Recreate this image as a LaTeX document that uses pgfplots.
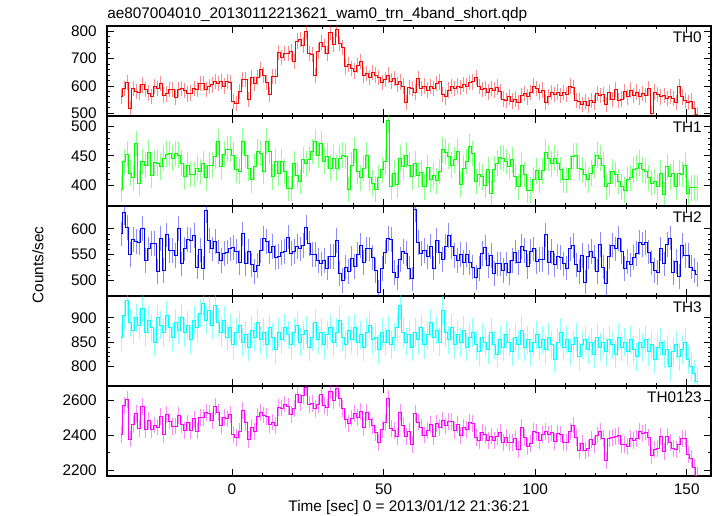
\documentclass[border=0pt]{standalone}
\usepackage{fontspec}
\setmainfont{Liberation Sans}
\usepackage{pgfplots}
\usepackage{pgfplotstable}
\pgfplotsset{compat=1.18}
\definecolor{qred}{RGB}{255,0,0}
\definecolor{qgreen}{RGB}{0,255,0}
\definecolor{qblue}{RGB}{0,0,255}
\definecolor{qcyan}{RGB}{0,255,255}
\definecolor{qmag}{RGB}{255,0,255}
\pgfplotstableread{
t a b c d e
-36.5 561 393 590 860 2404
-35.5 592 440 632 905 2569
-34.5 613 453 603 935 2604
-33.5 517 420 550 890 2377
-32.5 592 412 579 875 2458
-31.5 579 471 575 900 2525
-30.5 575 403 573 885 2436
-29.5 604 440 601 920 2565
-28.5 588 434 539 870 2431
-27.5 574 455 561 895 2485
-26.5 561 417 571 880 2429
-25.5 598 438 571 850 2457
-24.5 592 437 517 900 2446
-23.5 610 431 581 885 2507
-22.5 567 446 519 870 2402
-21.5 571 453 588 905 2517
-20.5 588 454 558 880 2480
-19.5 586 446 558 860 2450
-18.5 559 454 548 890 2451
-17.5 586 451 601 875 2513
-16.5 592 437 532 900 2461
-15.5 583 414 561 870 2428
-14.5 571 434 579 885 2469
-13.5 574 418 577 855 2424
-12.5 592 418 587 895 2492
-11.5 588 429 526 880 2423
-10.5 608 423 559 910 2500
-9.5 608 436 524 930 2498
-8.5 586 412 635 895 2528
-7.5 598 434 577 915 2524
-6.5 604 434 561 885 2484
-5.5 616 449 575 925 2565
-4.5 610 474 555 890 2529
-3.5 616 431 539 870 2456
-2.5 600 453 552 895 2500
-1.5 616 461 555 860 2492
-0.5 614 461 561 880 2516
0.5 542 451 563 845 2401
1.5 536 426 556 870 2388
2.5 580 423 535 885 2423
3.5 623 475 590 850 2538
4.5 625 451 532 865 2473
5.5 550 429 556 840 2375
6.5 630 409 530 875 2444
7.5 610 431 517 860 2418
8.5 630 457 529 890 2506
9.5 660 454 558 855 2527
10.5 640 423 581 870 2514
11.5 612 475 575 845 2507
12.5 570 457 555 880 2462
13.5 635 414 565 860 2474
14.5 635 440 545 835 2455
15.5 722 420 547 870 2559
16.5 705 440 554 855 2554
17.5 718 423 556 880 2577
18.5 720 394 584 865 2563
19.5 725 394 552 845 2516
20.5 690 436 556 870 2552
21.5 765 417 566 885 2633
22.5 770 406 561 850 2587
23.5 750 443 568 865 2626
24.5 800 436 603 875 2672
25.5 720 444 571 840 2575
26.5 715 457 550 860 2582
27.5 638 474 550 890 2552
28.5 728 451 539 855 2573
29.5 760 471 532 870 2633
30.5 745 441 539 845 2570
31.5 718 449 524 865 2556
32.5 795 429 547 880 2651
33.5 752 446 547 850 2595
34.5 808 429 577 870 2664
35.5 755 446 513 895 2609
36.5 740 451 500 860 2551
37.5 670 449 526 845 2490
38.5 680 392 517 875 2464
39.5 665 434 543 855 2497
40.5 655 460 527 880 2522
41.5 675 423 550 850 2498
42.5 690 412 568 865 2535
43.5 640 429 535 840 2444
44.5 645 451 561 870 2527
45.5 630 412 561 885 2488
46.5 650 403 545 855 2453
47.5 640 393 519 860 2412
48.5 632 412 477 835 2356
49.5 612 426 523 870 2431
50.5 625 440 555 850 2470
51.5 640 511 581 875 2607
52.5 618 397 579 845 2439
53.5 628 420 516 860 2424
54.5 605 400 506 880 2391
55.5 615 446 541 925 2527
56.5 600 431 556 870 2457
57.5 540 451 552 850 2393
58.5 595 434 524 865 2418
59.5 590 414 503 840 2347
60.5 578 436 637 870 2521
61.5 628 417 574 855 2474
62.5 592 421 552 880 2445
63.5 600 397 558 845 2400
64.5 585 430 547 865 2427
65.5 598 409 565 890 2462
66.5 592 417 524 860 2393
67.5 608 407 577 875 2467
68.5 615 423 555 850 2443
69.5 568 460 541 915 2484
70.5 560 456 566 870 2452
71.5 585 449 587 855 2476
72.5 598 434 566 880 2478
73.5 592 443 548 845 2428
74.5 600 458 539 865 2462
75.5 595 401 550 850 2396
76.5 605 429 535 875 2444
77.5 600 440 550 840 2430
78.5 612 466 535 860 2473
79.5 615 454 526 870 2465
80.5 632 406 505 845 2388
81.5 598 418 523 830 2369
82.5 588 414 552 860 2414
83.5 592 399 563 850 2404
84.5 578 426 529 835 2368
85.5 590 386 548 870 2394
86.5 585 427 513 845 2370
87.5 596 437 532 825 2390
88.5 580 447 532 855 2414
89.5 552 446 519 840 2357
90.5 548 440 532 865 2385
91.5 560 431 516 850 2357
92.5 545 443 539 830 2357
93.5 552 414 555 860 2381
94.5 540 397 535 845 2317
95.5 566 434 566 875 2441
96.5 572 418 558 840 2388
97.5 560 391 527 855 2333
98.5 575 391 556 830 2352
99.5 600 409 561 850 2420
100.5 590 424 537 865 2416
101.5 578 409 541 840 2368
102.5 585 424 541 855 2405
103.5 540 456 588 835 2419
104.5 560 446 535 860 2401
105.5 575 436 556 845 2412
106.5 570 446 530 815 2361
107.5 578 436 547 850 2411
108.5 565 426 545 870 2406
109.5 575 409 532 840 2356
110.5 568 409 524 855 2356
111.5 600 429 561 830 2420
112.5 595 449 568 845 2457
113.5 548 450 530 860 2388
114.5 545 429 517 820 2311
115.5 532 426 548 845 2351
116.5 542 418 497 855 2312
117.5 530 409 547 835 2321
118.5 548 420 556 850 2374
119.5 540 434 545 825 2344
120.5 572 451 517 860 2400
121.5 565 446 569 840 2420
122.5 570 434 526 850 2380
123.5 532 397 494 830 2253
124.5 575 403 547 855 2380
125.5 550 423 568 845 2386
126.5 588 418 561 825 2392
127.5 548 406 581 860 2395
128.5 552 397 556 840 2345
129.5 580 391 523 850 2344
130.5 560 409 537 830 2336
131.5 585 412 530 855 2382
132.5 565 426 545 835 2371
133.5 578 429 552 820 2379
134.5 560 437 573 850 2420
135.5 572 426 569 840 2407
136.5 566 423 573 855 2417
137.5 590 412 555 830 2387
138.5 500 403 535 845 2283
139.5 578 406 519 815 2318
140.5 570 397 516 840 2323
141.5 560 420 561 850 2391
142.5 565 383 532 825 2305
143.5 555 431 569 835 2390
144.5 562 414 582 800 2358
145.5 555 420 516 830 2321
146.5 540 397 537 845 2319
147.5 598 420 508 820 2346
148.5 560 418 568 835 2381
149.5 548 434 548 850 2380
150.5 540 386 548 815 2289
151.5 545 395 526 800 2266
152.5 518 395 519 785 2217
153.5 495 395 511 770 2171
}\data

\pgfplotsset{
  panel/.style={
    scale only axis, width=453pt, height=67.5pt, anchor=south west,
    xmin=-41.2, xmax=158, xtick={0,50,100,150}, minor x tick num=4,
    tick align=inside, tick pos=both,
    major tick length=5pt, minor tick length=2.5pt,
    axis line style={line width=0.8pt, black},
    every tick/.style={black, line width=0.6pt},
    yticklabel style={inner sep=0pt, anchor=east, xshift=-7.5pt},
    xticklabel style={inner sep=0pt, anchor=north, yshift=-5.5pt},
    /pgf/number format/assume math mode=true,
    /pgf/number format/1000 sep={},
    scaled y ticks=false,
    minor y tick num=4,
    tick label style={font=\fontsize{11.5}{13.8}\selectfont},
  },
}

\begin{document}
\begin{tikzpicture}
\useasboundingbox (0,0) rectangle (537.75pt,387pt);
\fontsize{11.5}{13.8}\selectfont

% TH0
\begin{axis}[panel, at={(80.25pt,300pt)}, ymin=490, ymax=820,
  ytick={500,600,700,800}, xticklabels={}]
\addplot[qred, line width=0.7pt, const plot mark mid, no markers,
  error bars/.cd, y dir=both, y fixed=28, error mark=none,
  error bar style={qred, line width=0.75pt, opacity=0.45}]
  table[x=t, y=a] {\data};
\end{axis}

% TH1
\begin{axis}[panel, at={(80.25pt,232.5pt)}, ymin=364, ymax=518,
  ytick={400,450,500}, xticklabels={}]
\addplot[qgreen, line width=0.7pt, const plot mark mid, no markers,
  error bars/.cd, y dir=both, y fixed=22, error mark=none,
  error bar style={qgreen, line width=0.75pt, opacity=0.45}]
  table[x=t, y=b] {\data};
\end{axis}

% TH2
\begin{axis}[panel, at={(80.25pt,165pt)}, ymin=470, ymax=644,
  ytick={500,550,600}, xticklabels={}]
\addplot[qblue, line width=0.7pt, const plot mark mid, no markers,
  error bars/.cd, y dir=both, y fixed=24, error mark=none,
  error bar style={qblue, line width=0.75pt, opacity=0.45}]
  table[x=t, y=c] {\data};
\end{axis}

% TH3
\begin{axis}[panel, at={(80.25pt,97.5pt)}, ymin=760, ymax=945,
  ytick={800,850,900}, xticklabels={}]
\addplot[qcyan, line width=0.7pt, const plot mark mid, no markers,
  error bars/.cd, y dir=both, y fixed=29, error mark=none,
  error bar style={qcyan, line width=0.75pt, opacity=0.45}]
  table[x=t, y=d] {\data};
\end{axis}

% TH0123
\begin{axis}[panel, at={(80.25pt,30pt)}, ymin=2166, ymax=2680,
  ytick={2200,2400,2600}, minor y tick num=1]
\addplot[qmag, line width=0.7pt, const plot mark mid, no markers,
  error bars/.cd, y dir=both, y fixed=48, error mark=none,
  error bar style={qmag, line width=0.75pt, opacity=0.45}]
  table[x=t, y=e] {\data};
\end{axis}

\node[anchor=base west, inner sep=0pt] at (80.25pt,372.75pt)
  {ae807004010\_20130112213621\_wam0\_trn\_4band\_short.qdp};
\node[anchor=base east, inner sep=0pt] at (526.5pt,354.75pt) {TH0};
\node[anchor=base east, inner sep=0pt] at (526.5pt,287.25pt) {TH1};
\node[anchor=base east, inner sep=0pt] at (526.5pt,219.75pt) {TH2};
\node[anchor=base east, inner sep=0pt] at (526.5pt,152.25pt) {TH3};
\node[anchor=base east, inner sep=0pt] at (526.5pt,84.75pt) {TH0123};
\node[rotate=90, inner sep=0pt] at (28.5pt,188.25pt) {Counts/sec};
\node[anchor=base, inner sep=0pt] at (306.75pt,3pt)
  {Time [sec] 0 = 2013/01/12 21:36:21};
\end{tikzpicture}
\end{document}
